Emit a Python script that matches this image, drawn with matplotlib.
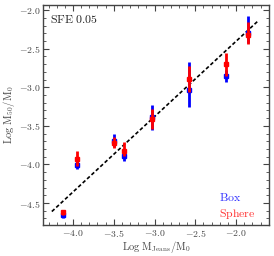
import numpy as np
from matplotlib import pyplot as plt
from matplotlib.ticker import MultipleLocator, FuncFormatter

plt.rcParams['mathtext.fontset'] = 'cm'
plt.rcParams['font.family'] = 'serif'
plt.rcParams['font.serif'] = ['DejaVu Serif']

# datos
log_mjeans = [-4.12, -3.95, -3.50, -3.37, -3.03, -2.58, -2.12, -1.85]

box_y = [-4.66, -4.01, -3.69, -3.89, -3.39, -3.04, -2.855, -2.29]
box_err_lo = [0.03, 0.05, 0.08, 0.07, 0.165, 0.21, 0.075, 0.14]
box_err_hi = [0.03, 0.05, 0.09, 0.05, 0.165, 0.37, 0.075, 0.22]

sphere_y = [-4.62, -3.93, -3.72, -3.82, -3.41, -2.89, -2.70, -2.32]
sphere_err_lo = [0.03, 0.09, 0.07, 0.07, 0.13, 0.17, 0.15, 0.12]
sphere_err_hi = [0.03, 0.11, 0.07, 0.11, 0.13, 0.17, 0.15, 0.17]

linea_x = [-4.26, -1.73]
linea_y = [-4.61, -2.14]

xticks = [-4.0, -3.5, -3.0, -2.5, -2.0]
yticks = [-4.5, -4.0, -3.5, -3.0, -2.5, -2.0]

fig = plt.figure()
fig.set_dpi(100)
fig.set_size_inches(2.74, 2.56)
ax = fig.add_axes([0.157, 0.121, 0.825, 0.859])

ax.plot(linea_x, linea_y, color='k', ls=(0, (2.2, 1.4)), lw=1.2, zorder=1)

ax.errorbar(log_mjeans, box_y, yerr=[box_err_lo, box_err_hi], fmt='s',
            color='#0000ff', ms=3.2, elinewidth=2, capsize=0, zorder=2)
ax.errorbar(log_mjeans, sphere_y, yerr=[sphere_err_lo, sphere_err_hi], fmt='s',
            color='#ff0000', ms=3.2, elinewidth=2, capsize=0, zorder=3)

ax.set_xlim(-4.368, -1.595)
ax.set_ylim(-4.785, -1.935)

ax.set_xticks(xticks)
ax.set_yticks(yticks)
ax.xaxis.set_minor_locator(MultipleLocator(0.1))
ax.yaxis.set_minor_locator(MultipleLocator(0.1))
fmt = FuncFormatter(lambda v, p: r'$%.1f$' % v)
ax.xaxis.set_major_formatter(fmt)
ax.yaxis.set_major_formatter(fmt)

ax.tick_params(which='both', direction='in', top=True, right=True,
               colors='#444444', labelcolor='#444444', labelsize=7)
ax.tick_params(which='major', length=4, width=0.8, pad=2)
ax.tick_params(which='minor', length=2, width=0.6)
for s in ax.spines.values():
    s.set_color('#444444')
    s.set_linewidth(1.0)

ax.set_xlabel(r'$\mathrm{Log\ M_{Jeans}/M_0}$', fontsize=7.5, color='#444444', labelpad=0)
ax.set_ylabel(r'$\mathrm{Log\ M_{50}/M_0}$', fontsize=7.5, color='#444444', labelpad=1)

ax.text(0.03, 0.965, r'$\mathrm{SFE\ 0.05}$', transform=ax.transAxes,
        fontsize=8.5, color='#222222', ha='left', va='top')
ax.text(0.78, 0.123, r'$\mathrm{Box}$', transform=ax.transAxes,
        fontsize=8.5, color='#3333ff', ha='left', va='center')
ax.text(0.78, 0.05, r'$\mathrm{Sphere}$', transform=ax.transAxes,
        fontsize=8.5, color='#ff3333', ha='left', va='center')

fig.savefig('out.png', dpi=100)
